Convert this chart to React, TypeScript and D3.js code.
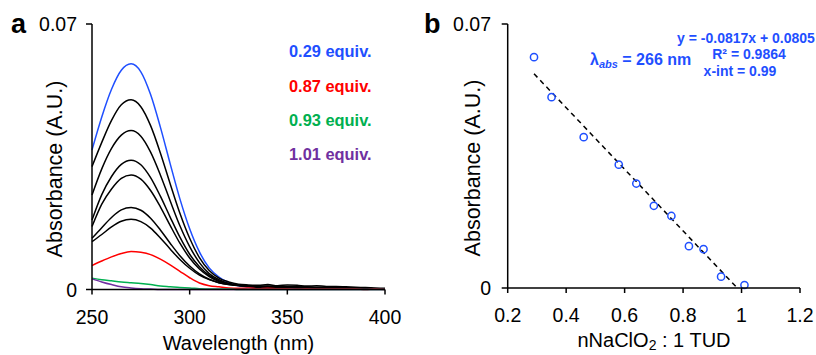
import React from 'react';
import * as d3 from 'd3';

// wavelength grid (nm) for the spectra in panel a
const wavelengths = [250, 255, 260, 265, 270, 275, 280, 285, 290, 295, 300, 305, 310, 315, 320, 325, 330, 335, 340, 345, 350, 355, 360, 365, 370, 375, 380, 385, 390, 395, 400];

// absorbance readings per titration step
const abs029 = [0.0368, 0.0455, 0.0528, 0.0578, 0.0595, 0.0574, 0.0514, 0.0428, 0.0332, 0.0239, 0.0160, 0.0099, 0.0057, 0.0033, 0.0018, 0.0010, 0.0007, 0.0005, 0.0006, 0.0004, 0.0005, 0.0003, 0.0004, 0.0003, 0.0003, 0.0002, 0.0002, 0.0002, 0.0001, 0.0001, 0.0001];
const abs035 = [0.0324, 0.0388, 0.0446, 0.0487, 0.0500, 0.0482, 0.0432, 0.0360, 0.0279, 0.0201, 0.0135, 0.0084, 0.0050, 0.0030, 0.0020, 0.0014, 0.0012, 0.0011, 0.0013, 0.0010, 0.0012, 0.0011, 0.0009, 0.0010, 0.0008, 0.0008, 0.0007, 0.0006, 0.0005, 0.0004, 0.0003];
const abs046 = [0.0249, 0.0318, 0.0372, 0.0407, 0.0419, 0.0404, 0.0362, 0.0302, 0.0234, 0.0168, 0.0113, 0.0071, 0.0042, 0.0026, 0.0016, 0.0011, 0.0009, 0.0008, 0.0007, 0.0009, 0.0006, 0.0007, 0.0006, 0.0005, 0.0005, 0.0004, 0.0004, 0.0003, 0.0003, 0.0002, 0.0002];
const abs058 = [0.0183, 0.0250, 0.0298, 0.0330, 0.0341, 0.0329, 0.0295, 0.0246, 0.0191, 0.0138, 0.0093, 0.0060, 0.0037, 0.0023, 0.0015, 0.0011, 0.0009, 0.0007, 0.0008, 0.0006, 0.0007, 0.0005, 0.0006, 0.0004, 0.0004, 0.0004, 0.0003, 0.0003, 0.0002, 0.0002, 0.0001];
const abs064 = [0.0166, 0.0225, 0.0265, 0.0293, 0.0302, 0.0291, 0.0261, 0.0218, 0.0169, 0.0122, 0.0083, 0.0054, 0.0034, 0.0021, 0.0014, 0.0010, 0.0008, 0.0006, 0.0007, 0.0005, 0.0006, 0.0004, 0.0005, 0.0004, 0.0003, 0.0003, 0.0003, 0.0002, 0.0002, 0.0001, 0.0001];
const abs070 = [0.0135, 0.0163, 0.0190, 0.0210, 0.0216, 0.0209, 0.0188, 0.0157, 0.0122, 0.0089, 0.0062, 0.0041, 0.0027, 0.0018, 0.0013, 0.0011, 0.0010, 0.0009, 0.0008, 0.0009, 0.0007, 0.0006, 0.0007, 0.0005, 0.0005, 0.0004, 0.0004, 0.0003, 0.0003, 0.0002, 0.0002];
const abs076 = [0.0126, 0.0145, 0.0165, 0.0180, 0.0185, 0.0179, 0.0162, 0.0136, 0.0107, 0.0079, 0.0056, 0.0038, 0.0026, 0.0018, 0.0013, 0.0011, 0.0010, 0.0008, 0.0009, 0.0007, 0.0008, 0.0006, 0.0006, 0.0005, 0.0005, 0.0004, 0.0003, 0.0003, 0.0002, 0.0002, 0.0002];
const abs087 = [0.0063, 0.0075, 0.0086, 0.0095, 0.0100, 0.0098, 0.0092, 0.0080, 0.0065, 0.0048, 0.0031, 0.0017, 0.0010, 0.0007, 0.0004, 0.0003, 0.0004, 0.0002, 0.0003, 0.0002, 0.0002, 0.0001, 0.0002, 0.0001, 0.0001, 0.0001, 0.0001, 0.0001, 0.0000, 0.0001, 0.0000];
const abs093 = [0.0030, 0.0026, 0.0023, 0.0020, 0.0018, 0.0016, 0.0013, 0.0009, 0.0007, 0.0005, 0.0004, 0.0002, 0.0001, 0.0001, 0.0001, 0, 0, 0, 0, 0, 0, 0, 0, 0, 0, 0, 0, 0, 0, 0, 0];
const abs101 = [0.0028, 0.0020, 0.0013, 0.0007, 0.0004, 0.0002, 0.0001, 0, 0, 0, 0, 0, 0, 0, 0, 0, 0, 0, 0, 0, 0, 0, 0, 0, 0, 0, 0, 0, 0, 0, 0];

// panel b: absorbance at 266 nm vs equivalents
const ratioX = [0.29, 0.35, 0.46, 0.58, 0.64, 0.70, 0.76, 0.82, 0.87, 0.93, 1.01];
const absAt266 = [0.0612, 0.0506, 0.0400, 0.0327, 0.0277, 0.0218, 0.0191, 0.0111, 0.0103, 0.0030, 0.0008];
const fitSlope = -0.0817;
const fitIntercept = 0.0805;

const waveTicks = [250, 300, 350, 400];
const ratioTicks = [0.2, 0.4, 0.6, 0.8, 1, 1.2];
const absTicks = [0, 0.07];

const BLUE = '#1f4fff';
const RED = '#ff0000';
const GREEN = '#00b050';
const PURPLE = '#7030a0';

const spectra = [
  { vals: abs029, color: BLUE },
  { vals: abs035, color: '#000' },
  { vals: abs046, color: '#000' },
  { vals: abs058, color: '#000' },
  { vals: abs064, color: '#000' },
  { vals: abs070, color: '#000' },
  { vals: abs076, color: '#000' },
  { vals: abs087, color: RED },
  { vals: abs093, color: GREEN },
  { vals: abs101, color: PURPLE },
];

const legend = [
  { label: '0.29 equiv.', color: BLUE },
  { label: '0.87 equiv.', color: RED },
  { label: '0.93 equiv.', color: GREEN },
  { label: '1.01 equiv.', color: PURPLE },
];

const font = '"Liberation Sans", Arial, sans-serif';

const App: React.FC = () => {
  // panel a scales
  const xa = d3.scaleLinear().domain([250, 400]).range([92, 385]);
  const ya = d3.scaleLinear().domain([0, 0.07]).range([289.5, 24]);
  // panel b scales
  const xb = d3.scaleLinear().domain([0.2, 1.2]).range([507.7, 800]);
  const yb = d3.scaleLinear().domain([0, 0.07]).range([288, 24]);

  const specLine = d3.line<number>()
    .x((_, i) => xa(wavelengths[i]))
    .y(d => ya(d))
    .curve(d3.curveMonotoneX);

  const xInt = -fitIntercept / fitSlope;
  const fitLine = d3.line<number>()
    .x(d => xb(d))
    .y(d => yb(fitSlope * d + fitIntercept));

  return (
    <svg width={816} height={355} style={{ position: 'absolute', left: 0, top: 0, background: '#fff' }} fontFamily={font}>
      {/* ---------- panel a ---------- */}
      <text x={11} y={33} fontSize={27} fontWeight="bold">a</text>
      {spectra.map((s, i) => (
        <path key={i} d={specLine(s.vals) || ''} fill="none" stroke={s.color} strokeWidth={1.5} />
      ))}
      <line x1={xa(250)} x2={xa(250)} y1={ya(0.07)} y2={ya(0)} stroke="#000" strokeWidth={1.5} />
      <line x1={xa(250)} x2={xa(400)} y1={ya(0)} y2={ya(0)} stroke="#000" strokeWidth={1.5} />
      {absTicks.map(t => (
        <g key={t}>
          <line x1={xa(250) - 6} x2={xa(250)} y1={ya(t)} y2={ya(t)} stroke="#000" strokeWidth={1.5} />
          <text x={77} y={ya(t)} dy="0.36em" textAnchor="end" fontSize={19.5}>{t}</text>
        </g>
      ))}
      {waveTicks.map(t => (
        <g key={t}>
          <line x1={xa(t)} x2={xa(t)} y1={ya(0)} y2={ya(0) + 5} stroke="#000" strokeWidth={1.5} />
          <text x={xa(t)} y={323.5} textAnchor="middle" fontSize={19.5}>{t}</text>
        </g>
      ))}
      <text x={238.5} y={350} textAnchor="middle" fontSize={20}>Wavelength (nm)</text>
      <text transform="translate(62,169) rotate(-90)" textAnchor="middle" fontSize={21.5}>Absorbance (A.U.)</text>
      {legend.map((l, i) => (
        <text key={l.label} x={289} y={57.3 + i * 34.3} fontSize={16.4} fontWeight="bold" fill={l.color}>{l.label}</text>
      ))}

      {/* ---------- panel b ---------- */}
      <text x={424} y={33} fontSize={27} fontWeight="bold">b</text>
      <path d={fitLine([0.29, xInt]) || ''} fill="none" stroke="#000" strokeWidth={1.5} strokeDasharray="5,4" />
      {ratioX.map((x, i) => (
        <circle key={i} cx={xb(x)} cy={yb(absAt266[i])} r={3.6} fill="none" stroke={BLUE} strokeWidth={1.5} />
      ))}
      <line x1={xb(0.2)} x2={xb(0.2)} y1={yb(0.07)} y2={yb(0)} stroke="#000" strokeWidth={1.5} />
      <line x1={xb(0.2)} x2={xb(1.2)} y1={yb(0)} y2={yb(0)} stroke="#000" strokeWidth={1.5} />
      {absTicks.map(t => (
        <g key={t}>
          <line x1={xb(0.2) - 6} x2={xb(0.2)} y1={yb(t)} y2={yb(t)} stroke="#000" strokeWidth={1.5} />
          <text x={491} y={yb(t)} dy="0.36em" textAnchor="end" fontSize={19.5}>{t}</text>
        </g>
      ))}
      {ratioTicks.map(t => (
        <g key={t}>
          <line x1={xb(t)} x2={xb(t)} y1={yb(0)} y2={yb(0) + 5} stroke="#000" strokeWidth={1.5} />
          <text x={xb(t)} y={322} textAnchor="middle" fontSize={19.5}>{t}</text>
        </g>
      ))}
      <text x={654} y={347} textAnchor="middle" fontSize={20}>
        nNaClO<tspan fontSize={14} dy={3}>2</tspan><tspan dy={-3}> : 1 TUD</tspan>
      </text>
      <text transform="translate(480,168) rotate(-90)" textAnchor="middle" fontSize={21.5}>Absorbance (A.U.)</text>
      <text x={590} y={65} fontSize={16} fontWeight="bold" fill={BLUE}>
        λ<tspan fontSize={11} fontStyle="italic" dy={3}>abs</tspan><tspan dy={-3}> = 266 nm</tspan>
      </text>
      <g fontSize={14} fontWeight="bold" fill={BLUE} textAnchor="middle">
        <text x={746} y={43.3}>y = -0.0817x + 0.0805</text>
        <text x={749} y={59.3}>R² = 0.9864</text>
        <text x={740} y={76}>x-int = 0.99</text>
      </g>
    </svg>
  );
};

export default App;
